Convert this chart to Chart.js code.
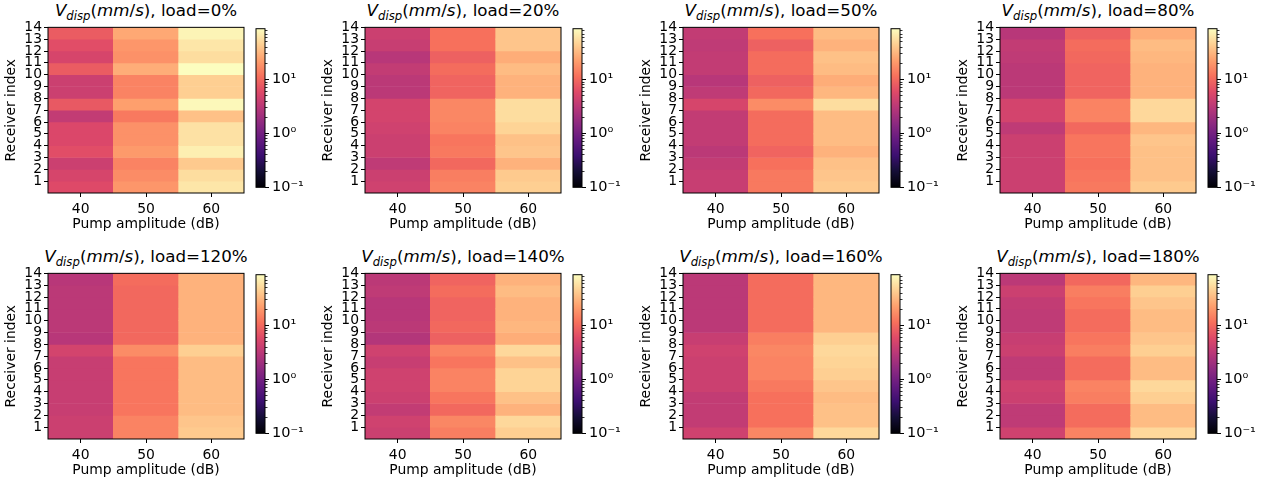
<!DOCTYPE html>
<html>
<head>
<meta charset="utf-8">
<script src="https://cdn.jsdelivr.net/npm/chart.js@4.4.1/dist/chart.umd.min.js"></script>
<style>
  html, body { margin: 0; padding: 0; background: #fff; }
  body { width: 1274px; height: 486px; position: relative; overflow: hidden; font-family: 'DejaVu Sans', sans-serif; }
  canvas { position: absolute; }
  .title { position: absolute; font-size: 16.7px; line-height: 17px; white-space: nowrap; text-align: center; color: #000; }
  .title sub { font-size: 70%; line-height: 0; vertical-align: -4px; }
</style>
</head>
<body>
<script>
// x categories / y rows
const pumpAmp = [40, 50, 60];
const receiverIdx = [1, 2, 3, 4, 5, 6, 7, 8, 9, 10, 11, 12, 13, 14];
const loadLabels = ['0%', '20%', '50%', '80%', '120%', '140%', '160%', '180%'];

// V_disp (mm/s), one row per pump amplitude (40, 50, 60 dB), receivers 1..14
const load0 = [
  [5.8, 5.1, 4.2, 6.3, 5.5, 5.5, 3.6, 7.7, 4.2, 4.2, 8.2, 5.1, 6.3, 8.2],
  [19.8, 17.3, 15.1, 21.2, 18.5, 18.5, 13.2, 22.7, 15.1, 15.1, 27.8, 18.5, 19.8, 25.9],
  [62.6, 54.7, 41.7, 71.7, 58.5, 58.5, 36.4, 82.2, 44.6, 44.6, 88, 54.7, 62.6, 76.8],
];
const load20 = [
  [4.5, 4.2, 3.4, 4.2, 4.2, 4.5, 4.8, 4.8, 3.2, 3.2, 3.6, 3.0, 3.9, 4.2],
  [15.1, 14.1, 10.0, 13.2, 12.3, 15.1, 16.1, 16.1, 9.4, 9.4, 10.7, 8.8, 11.5, 11.5],
  [44.6, 41.7, 29.7, 39.0, 36.4, 47.8, 54.7, 54.7, 29.7, 29.7, 34.0, 27.8, 39.0, 39.0],
];
const load50 = [
  [3.9, 3.9, 3.6, 3.2, 3.6, 3.6, 3.6, 5.1, 3.4, 3.0, 3.6, 3.6, 3.4, 3.6],
  [13.2, 13.2, 11.5, 9.4, 10.7, 10.7, 10.7, 17.3, 10.0, 8.8, 10.7, 10.7, 8.8, 11.5],
  [41.7, 39.0, 36.4, 29.7, 34.0, 34.0, 34.0, 54.7, 31.8, 27.8, 34.0, 36.4, 29.7, 34.0],
];
const load80 = [
  [4.2, 4.2, 4.2, 4.2, 4.2, 3.4, 4.8, 4.8, 3.2, 3.2, 3.2, 3.4, 3.6, 3.0],
  [13.2, 12.3, 11.5, 12.3, 12.3, 10.0, 15.1, 15.1, 9.4, 9.4, 9.4, 10.0, 10.7, 8.8],
  [41.7, 36.4, 36.4, 36.4, 39.0, 31.8, 51.1, 51.1, 29.7, 29.7, 29.7, 31.8, 34.0, 27.8],
];
const load120 = [
  [4.2, 4.2, 3.9, 3.9, 3.9, 3.9, 3.9, 4.8, 3.0, 3.2, 3.2, 3.2, 3.2, 3.0],
  [15.1, 15.1, 12.3, 12.3, 12.3, 12.3, 12.3, 17.3, 10.0, 10.0, 10.0, 10.0, 10.0, 10.7],
  [41.7, 39.0, 34.0, 34.0, 34.0, 34.0, 34.0, 44.6, 29.7, 29.7, 29.7, 29.7, 29.7, 29.7],
];
const load140 = [
  [4.2, 4.5, 3.6, 4.2, 4.5, 4.5, 3.9, 4.5, 2.8, 3.2, 3.0, 3.0, 3.4, 3.2],
  [14.1, 16.1, 10.0, 12.3, 15.1, 15.1, 12.3, 15.1, 8.8, 10.0, 9.4, 9.4, 10.7, 9.4],
  [44.6, 51.1, 29.7, 36.4, 47.8, 47.8, 36.4, 51.1, 27.8, 31.8, 29.7, 29.7, 34.0, 29.7],
];
const load160 = [
  [4.5, 3.6, 3.6, 3.6, 4.2, 4.2, 4.2, 4.5, 3.9, 3.2, 3.2, 3.2, 3.2, 3.2],
  [16.1, 11.5, 11.5, 11.5, 13.2, 15.1, 15.1, 16.1, 14.1, 10.7, 10.7, 10.7, 10.7, 10.7],
  [51.1, 36.4, 36.4, 34.0, 39.0, 44.6, 47.8, 51.1, 44.6, 31.8, 31.8, 31.8, 31.8, 31.8],
];
const load180 = [
  [4.5, 3.4, 3.4, 4.2, 4.5, 3.4, 3.4, 4.2, 3.9, 3.4, 3.4, 3.6, 4.2, 3.2],
  [15.1, 10.7, 10.7, 14.1, 15.1, 10.7, 10.7, 14.1, 12.3, 10.7, 10.7, 12.3, 14.1, 10.0],
  [51.1, 34.0, 34.0, 44.6, 51.1, 34.0, 34.0, 44.6, 39.0, 34.0, 34.0, 39.0, 44.6, 31.8],
];
const allLoads = [load0, load20, load50, load80, load120, load140, load160, load180];

// colour bar (log norm)
const cbarMin = 0.1;
const cbarMax = 88;
const cbarMajor = [0.1, 1, 10];
const cbarMajorLabels = ['10\u207B\u00B9', '10\u2070', '10\u00B9'];
const cbarMinor = [0.2, 0.3, 0.4, 0.5, 0.6, 0.7, 0.8, 0.9, 2, 3, 4, 5, 6, 7, 8, 9, 20, 30, 40, 50, 60, 70, 80];

// magma colormap stops
const magmaStops = ['#000004', '#140e36', '#3b0f70', '#641a80', '#8c2981', '#b73779',
  '#de4968', '#f7705c', '#fe9f6d', '#fecf92', '#fcfdbf'];

function hexRgb(h) {
  return [parseInt(h.slice(1, 3), 16), parseInt(h.slice(3, 5), 16), parseInt(h.slice(5, 7), 16)];
}
const magmaRgb = magmaStops.map(hexRgb);

function magma(t) {
  t = Math.max(0, Math.min(1, t));
  const f = t * (magmaRgb.length - 1);
  const i = Math.min(Math.floor(f), magmaRgb.length - 2);
  const k = f - i;
  const a = magmaRgb[i], b = magmaRgb[i + 1];
  const c = a.map((v, j) => Math.round(v + (b[j] - v) * k));
  return 'rgb(' + c.join(',') + ')';
}

function logNorm(v) {
  return (Math.log10(v) - Math.log10(cbarMin)) / (Math.log10(cbarMax) - Math.log10(cbarMin));
}

// layout
const plotLefts = [48, 365, 683, 1000];
const cbarLefts = [256, 573, 891, 1208];
const rowTops = [21, 267];
const PLOT_W = 196, PLOT_H = 172, CBAR_W = 9;
const FONT = "'DejaVu Sans', sans-serif";

const framePlugin = {
  id: 'frame',
  afterDraw(chart) {
    const { ctx, chartArea: a } = chart;
    ctx.save();
    ctx.strokeStyle = '#000';
    ctx.lineWidth = 1;
    ctx.strokeRect(a.left, a.top, a.right - a.left, a.bottom - a.top);
    ctx.restore();
  },
};

const gradientPlugin = {
  id: 'cbarGradient',
  beforeDatasetsDraw(chart) {
    const { ctx, chartArea: a, scales } = chart;
    const y = scales.y;
    const g = ctx.createLinearGradient(0, y.getPixelForValue(cbarMin), 0, y.getPixelForValue(cbarMax));
    magmaStops.forEach((c, i) => g.addColorStop(i / (magmaStops.length - 1), c));
    ctx.save();
    ctx.fillStyle = g;
    ctx.fillRect(a.left, a.top, a.right - a.left, a.bottom - a.top);
    ctx.restore();
  },
};

function addCanvas(left, top, w, h) {
  const c = document.createElement('canvas');
  c.width = w;
  c.height = h;
  c.style.left = left + 'px';
  c.style.top = top + 'px';
  c.style.width = w + 'px';
  c.style.height = h + 'px';
  document.body.appendChild(c);
  return c;
}

function drawPanel(p) {
  const col = p % 4, row = Math.floor(p / 4);
  const plotL = plotLefts[col], plotT = rowTops[row];
  const grid = allLoads[p];

  // title
  const t = document.createElement('div');
  t.className = 'title';
  t.style.left = (plotL - 30) + 'px';
  t.style.width = (PLOT_W + 60) + 'px';
  t.style.top = (plotT - 19) + 'px';
  t.innerHTML = '<i>V</i><sub><i>disp</i></sub>(<i>mm</i>/<i>s</i>), load=' + loadLabels[p];
  document.body.appendChild(t);

  // heatmap
  const padL = 50, padT = 4, padR = 4, axisH = 44;
  const hc = addCanvas(plotL - padL, plotT - padT, padL + PLOT_W + padR, padT + PLOT_H + axisH);
  const cells = [];
  pumpAmp.forEach((x, j) => {
    receiverIdx.forEach((r, i) => {
      cells.push({ x: x, y: [r - 1, r], v: grid[j][i] });
    });
  });

  new Chart(hc, {
    type: 'bar',
    data: {
      datasets: [{
        data: cells,
        backgroundColor: ctx => (ctx.raw ? magma(logNorm(ctx.raw.v)) : 'transparent'),
        borderWidth: 0,
        barPercentage: 1,
        categoryPercentage: 1,
      }],
    },
    options: {
      responsive: false,
      animation: false,
      events: [],
      layout: { padding: { left: 0, top: padT, right: padR, bottom: 0 } },
      plugins: { legend: { display: false }, tooltip: { enabled: false } },
      scales: {
        x: {
          type: 'linear',
          min: 35,
          max: 65,
          offset: false,
          afterBuildTicks: s => { s.ticks = pumpAmp.map(v => ({ value: v })); },
          afterFit: s => { s.height = axisH; },
          grid: { drawOnChartArea: false, drawTicks: true, tickLength: 4, tickColor: '#000', offset: false },
          border: { display: false },
          ticks: { color: '#000', font: { family: FONT, size: 13.9 }, padding: 4, maxRotation: 0 },
          title: { display: true, text: 'Pump amplitude (dB)', color: '#000', font: { family: FONT, size: 13.9 }, padding: { top: 0, bottom: 4 } },
        },
        y: {
          type: 'linear',
          min: 0,
          max: 14,
          afterBuildTicks: s => { s.ticks = receiverIdx.map(v => ({ value: v })); },
          afterFit: s => { s.width = padL; },
          grid: { drawOnChartArea: false, drawTicks: true, tickLength: 4, tickColor: '#000' },
          border: { display: false },
          ticks: { color: '#000', font: { family: FONT, size: 13.9 }, padding: 2, autoSkip: false },
          title: { display: true, text: 'Receiver index', color: '#000', font: { family: FONT, size: 13.9 }, padding: { top: 5, bottom: 0 } },
        },
      },
    },
    plugins: [framePlugin],
  });

  // colour bar
  const cbL = cbarLefts[col];
  const labW = 44;
  const cc = addCanvas(cbL - 1, plotT - padT, 1 + CBAR_W + labW, padT + PLOT_H + 6);
  new Chart(cc, {
    type: 'scatter',
    data: { datasets: [] },
    options: {
      responsive: false,
      animation: false,
      events: [],
      layout: { padding: { left: 1, top: padT, right: 0, bottom: 6 } },
      plugins: { legend: { display: false }, tooltip: { enabled: false } },
      scales: {
        x: { display: false, min: 0, max: 1 },
        yMinor: {
          type: 'logarithmic',
          position: 'right',
          weight: 0,
          min: cbarMin,
          max: cbarMax,
          afterBuildTicks: s => { s.ticks = cbarMinor.map(v => ({ value: v })); },
          afterFit: s => { s.width = 0; },
          grid: { drawOnChartArea: false, drawTicks: true, tickLength: 2.5, tickColor: '#000', tickWidth: 0.8 },
          border: { display: false },
          ticks: { display: false },
        },
        y: {
          type: 'logarithmic',
          position: 'right',
          weight: 1,
          min: cbarMin,
          max: cbarMax,
          afterBuildTicks: s => { s.ticks = cbarMajor.map(v => ({ value: v })); },
          afterFit: s => { s.width = labW; },
          grid: { drawOnChartArea: false, drawTicks: true, tickLength: 4, tickColor: '#000' },
          border: { display: false },
          ticks: {
            color: '#000',
            font: { family: FONT, size: 14.5 },
            padding: 3,
            autoSkip: false,
            callback: v => {
              const i = cbarMajor.indexOf(v);
              return i >= 0 ? cbarMajorLabels[i] : '';
            },
          },
        },
      },
    },
    plugins: [gradientPlugin, framePlugin],
  });
}

for (let p = 0; p < allLoads.length; p++) drawPanel(p);
</script>
</body>
</html>
